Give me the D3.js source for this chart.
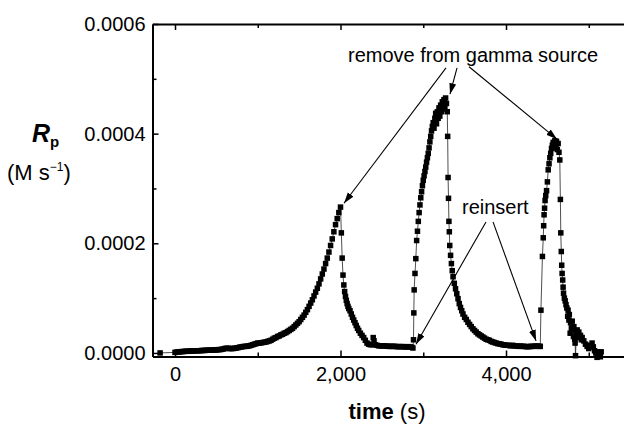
<!DOCTYPE html>
<html><head><meta charset="utf-8">
<script src="https://cdn.jsdelivr.net/npm/d3@7"></script>
<style>body{margin:0;background:#fff}svg{display:block}text{font-family:"Liberation Sans",Arial,sans-serif;fill:#000}</style>
</head><body><svg id="c" width="624" height="424"></svg>
<script>
// Rp in units of 1e-6 M s^-1 ; time in s
const preStart = [[-180,0]];
const rise1 = [[0,1],[20,1.5],[40,2],[60,2],[80,2.5],[100,2.5],[120,3],[140,3],[160,3],[180,3.5],[200,3.5],[220,3.5],[240,4],[260,4],[280,4],[300,4],[320,4.5],[340,4.5],[360,4.5],[380,5],[400,5],[420,5],[440,5],[460,5.5],[480,5.5],[500,5.5],[520,6],[540,6],[560,6.5],[580,7],[600,8],[620,8.5],[640,8.5],[660,8],[680,8],[700,8],[720,8.5],[740,9],[760,9.5],[780,10.5],[800,11],[820,11.5],[840,12],[860,12],[880,12.5],[900,13],[920,14],[940,15],[960,16],[980,17],[1000,18],[1020,18],[1040,18.5],[1060,19],[1080,19.5],[1100,20],[1120,21],[1140,22],[1160,23],[1180,25],[1200,27],[1220,28],[1240,30],[1260,31],[1280,33],[1300,34],[1320,36],[1340,37],[1360,39],[1380,41],[1400,43],[1420,45],[1440,48],[1460,51],[1480,54],[1500,57],[1520,61],[1540,65],[1560,69],[1580,74],[1600,79],[1620,85],[1640,91],[1660,97],[1680,104],[1700,111],[1720,118],[1740,126],[1760,135],[1780,144],[1800,153],[1820,163],[1840,173],[1860,184],[1880,196],[1900,208],[1920,221],[1940,234],[1960,245],[1980,256],[2000,266]];
const decay1 = [[2010,219],[2020,173],[2030,142],[2040,124],[2050,112],[2060,103],[2070,96],[2080,90],[2090,85],[2100,81],[2115,77],[2130,71],[2145,65],[2160,60],[2175,55],[2190,50],[2205,45],[2220,41],[2240,36],[2260,32],[2280,28],[2300,23],[2320,18],[2340,16],[2360,15],[2380,15],[2395,28],[2405,22],[2420,15],[2440,14],[2460,13],[2480,13],[2500,13],[2520,13],[2540,12.5],[2560,12.5],[2580,12],[2600,12],[2620,12],[2640,12],[2660,12],[2680,11.5],[2700,11.5],[2720,11.5],[2740,11.5],[2760,11.5],[2780,11],[2800,11],[2820,11.5],[2840,11],[2860,10.5],[2875,9]];
const rise2 = [[2882,24],[2886,73],[2890,115],[2900,145],[2910,172],[2920,205],[2930,222],[2940,240],[2950,256],[2960,270],[2970,283],[2980,294],[2990,305],[3000,315],[3010,323],[3020,331],[3030,339],[3040,348],[3050,356],[3060,364],[3070,374],[3080,385],[3090,395],[3100,405],[3110,413],[3120,420],[3130,410],[3140,428],[3150,437],[3160,418],[3170,440],[3180,428],[3190,447],[3200,432],[3210,452],[3220,440],[3230,458],[3240,445],[3250,462],[3260,450],[3270,465],[3280,455]];
const decay2 = [[3290,440],[3295,395],[3300,320],[3305,282],[3310,240],[3315,221],[3320,196],[3330,178],[3340,163],[3350,150],[3360,139],[3375,127],[3390,117],[3405,108],[3420,99],[3435,90],[3450,83],[3465,77],[3480,71],[3500,65],[3520,61],[3540,56],[3560,52],[3580,48],[3600,44],[3620,41],[3640,38],[3660,35],[3680,33],[3700,31],[3720,29],[3740,27],[3760,25],[3780,24],[3800,23],[3820,21],[3840,20],[3860,19],[3880,18],[3900,17],[3920,16.5],[3940,16],[3960,15],[3980,14.5],[4000,14],[4020,14],[4040,13.5],[4060,13],[4080,14],[4100,13],[4120,12.5],[4140,12.5],[4160,12],[4180,12.5],[4200,12],[4220,12],[4240,11.5],[4260,11.5],[4280,11.5],[4300,12],[4320,12],[4340,12],[4360,12.5],[4380,12.5],[4400,12]];
const rise3 = [[4414,12],[4422,78],[4440,176],[4450,210],[4455,232],[4460,252],[4466,264],[4472,278],[4480,287],[4490,296],[4500,312],[4510,334],[4520,345],[4530,356],[4540,364],[4550,373],[4560,379],[4570,384],[4580,378],[4590,387],[4600,374],[4610,386],[4620,371],[4630,382],[4640,366],[4650,352]];
const decay3 = [[4657,280],[4662,219],[4668,185],[4673,160],[4678,145],[4685,133],[4690,120],[4695,109],[4705,100],[4715,95],[4725,88],[4735,82],[4745,67],[4750,78],[4760,60],[4765,70],[4775,36],[4780,55],[4790,45],[4800,58],[4810,42],[4815,30],[4820,48],[4830,25],[4835,18],[4840,-5],[4850,35],[4860,42],[4870,30],[4880,38],[4890,28],[4900,32],[4910,24],[4920,28],[4940,22],[4960,16],[4980,12],[5000,8],[5020,14],[5040,18],[5055,11],[5070,4],[5085,0],[5100,-8],[5110,2],[5125,-5],[5140,-7],[5150,2]];

const xMajor = [0, 2000, 4000];
const xMinor = [1000, 3000, 5000];
const xLabels = ["0", "2,000", "4,000"];
const yMajor = [0, 200, 400, 600];
const yMinor = [100, 300, 500];
const yLabels = ["0.0000", "0.0002", "0.0004", "0.0006"];

// annotations in data coordinates
const removeLabel = {text:"remove from gamma source", t:2091, v:531};
const removeArrows = [[[3275,520],[2042,273]],[[3408,520],[3323,472]],[[3553,522],[4616,390]]];
const reinsertLabel = {text:"reinsert", t:3468, v:253};
const reinsertArrows = [[[3758,239],[2912,16]],[[3843,239],[4363,22]]];

const data = [].concat(preStart, rise1, decay1, rise2, decay2, rise3, decay3);

const svg = d3.select("#c");
const x = d3.scaleLinear().domain([-272, 5740]).range([152.5, 650]);
const y = d3.scaleLinear().domain([-6.5, 600]).range([356.5, 24]);

const defs = svg.append("defs");
defs.append("marker").attr("id","ah").attr("markerUnits","userSpaceOnUse")
  .attr("markerWidth",12).attr("markerHeight",8).attr("refX",11).attr("refY",3.5).attr("orient","auto")
  .append("path").attr("d","M0,0L11,3.5L0,7Z").attr("fill","#000");

function styleAxis(g){
  g.selectAll("text").attr("font-size",20).attr("font-family",'"Liberation Sans",Arial,sans-serif').attr("fill","#000");
  g.selectAll("line").attr("stroke","#000").attr("stroke-width",1.5);
  g.select(".domain").attr("stroke","#000").attr("stroke-width",2);
}
// bottom
const gb = svg.append("g").attr("transform",`translate(0,${y.range()[0]})`)
  .call(d3.axisBottom(x).tickValues(xMajor).tickSizeInner(-6).tickSizeOuter(0).tickPadding(10).tickFormat((d,i)=>xLabels[i]));
styleAxis(gb);
const gbm = svg.append("g").attr("transform",`translate(0,${y.range()[0]})`)
  .call(d3.axisBottom(x).tickValues(xMinor).tickSizeInner(-4).tickSizeOuter(0).tickFormat(""));
styleAxis(gbm); gbm.select(".domain").remove();
// top
const gt = svg.append("g").attr("transform",`translate(0,${y.range()[1]})`)
  .call(d3.axisTop(x).tickValues(xMajor).tickSizeInner(-6).tickSizeOuter(0).tickFormat(""));
styleAxis(gt);
const gtm = svg.append("g").attr("transform",`translate(0,${y.range()[1]})`)
  .call(d3.axisTop(x).tickValues(xMinor).tickSizeInner(-4).tickSizeOuter(0).tickFormat(""));
styleAxis(gtm); gtm.select(".domain").remove();
// left
const gl = svg.append("g").attr("transform",`translate(${x.range()[0]},0)`)
  .call(d3.axisLeft(y).tickValues(yMajor).tickSizeInner(-6).tickSizeOuter(0).tickPadding(7).tickFormat((d,i)=>yLabels[i]));
styleAxis(gl);
const glm = svg.append("g").attr("transform",`translate(${x.range()[0]},0)`)
  .call(d3.axisLeft(y).tickValues(yMinor).tickSizeInner(-4).tickSizeOuter(0).tickFormat(""));
styleAxis(glm); glm.select(".domain").remove();

// connecting line
svg.append("path").datum(data)
  .attr("d", d3.line().x(d=>x(d[0])).y(d=>y(d[1])))
  .attr("fill","none").attr("stroke","#222").attr("stroke-width",0.8);
// markers
const ms = 5.5;
svg.append("g").selectAll("rect").data(data).join("rect")
  .attr("x", d=>x(d[0])-ms/2).attr("y", d=>y(d[1])-ms/2)
  .attr("width", ms).attr("height", ms).attr("fill","#000");

// annotations
function arrows(list){
  svg.append("g").selectAll("line").data(list).join("line")
    .attr("x1",d=>x(d[0][0])).attr("y1",d=>y(d[0][1]))
    .attr("x2",d=>x(d[1][0])).attr("y2",d=>y(d[1][1]))
    .attr("stroke","#000").attr("stroke-width",1.1).attr("marker-end","url(#ah)");
}
arrows(removeArrows);
arrows(reinsertArrows);
svg.append("text").attr("x",x(removeLabel.t)).attr("y",y(removeLabel.v)).attr("font-size",20).text(removeLabel.text);
svg.append("text").attr("x",x(reinsertLabel.t)).attr("y",y(reinsertLabel.v)).attr("font-size",20).text(reinsertLabel.text);

// axis titles
const xt = svg.append("text").attr("x",387).attr("y",419).attr("text-anchor","middle").attr("font-size",22);
xt.append("tspan").attr("font-weight","bold").text("time");
xt.append("tspan").text(" (s)");
const yt = svg.append("text").attr("x",32).attr("y",142);
yt.append("tspan").attr("font-weight","bold").attr("font-style","italic").attr("font-size",25).text("R");
yt.append("tspan").attr("font-weight","bold").attr("font-size",15).attr("dy",5).text("p");
const yu = svg.append("text").attr("x",7).attr("y",180).attr("font-size",22);
yu.append("tspan").text("(M s");
yu.append("tspan").attr("font-size",12).attr("dy",-9).text("\u22121");
yu.append("tspan").attr("dy",9).text(")");
</script></body></html>
